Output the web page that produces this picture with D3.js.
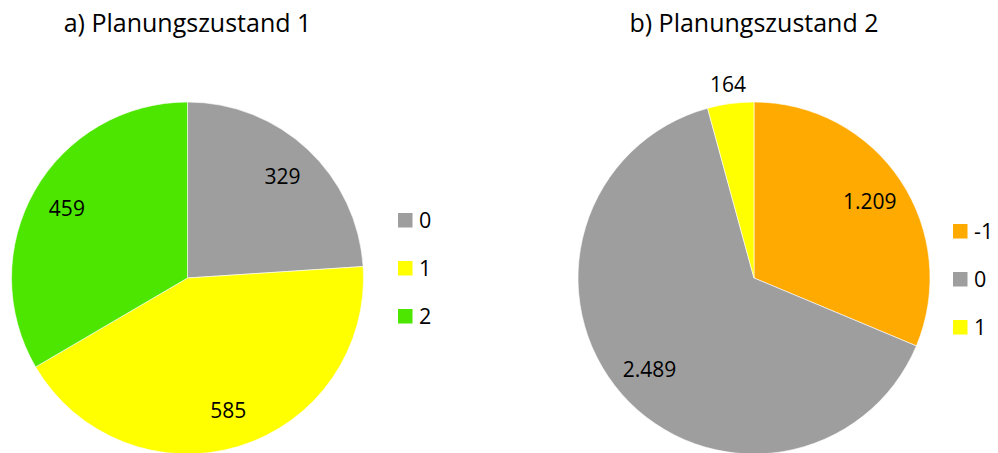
<!DOCTYPE html>
<html><head><meta charset="utf-8">
<script src="https://cdn.jsdelivr.net/npm/d3@7"></script>
<style>body{margin:0;background:#fff}svg{display:block}text{font-family:"Open Sans","Noto Sans",sans-serif;fill:#000}</style>
</head><body>
<script>
const titles = ["a) Planungszustand 1", "b) Planungszustand 2"];
const categoriesA = ["0", "1", "2"];
const valuesA = [329, 585, 459];
const colorsA = ["#9E9E9E", "#FFFF00", "#4DE600"];
const categoriesB = ["-1", "0", "1"];
const valuesB = [1209, 2489, 164];
const colorsB = ["#FFAA00", "#9E9E9E", "#FFFF00"];

const W = 998, H = 453;
const svg = d3.select("body").append("svg").attr("width", W).attr("height", H);
const loc = d3.formatLocale({decimal: ",", thousands: ".", grouping: [3], currency: ["", "€"]});
const fmt = loc.format(",d");

const panels = [
  {title: titles[0], cats: categoriesA, vals: valuesA, cols: colorsA, cx: 187.5, cy: 278, r: 176, lx: 398, ly: 220, outside: []},
  {title: titles[1], cats: categoriesB, vals: valuesB, cols: colorsB, cx: 754, cy: 278, r: 176, lx: 953, ly: 231, outside: [2]}
];

panels.forEach(p => {
  const g = svg.append("g").attr("transform", `translate(${p.cx},${p.cy})`);
  const data = p.cats.map((c, i) => ({cat: c, value: p.vals[i], color: p.cols[i], i}));
  const arcs = d3.pie().sort(null).value(d => d.value)(data);
  const arc = d3.arc().innerRadius(0).outerRadius(p.r);
  g.selectAll("path").data(arcs).join("path")
    .attr("d", arc).attr("fill", d => d.data.color)
    .attr("stroke", "#fff").attr("stroke-width", 0.6);
  const lab = d3.arc().innerRadius(p.r * 0.79).outerRadius(p.r * 0.79);
  const labOut = d3.arc().innerRadius(p.r * 1.11).outerRadius(p.r * 1.11);
  g.selectAll("text.v").data(arcs).join("text").attr("class", "v")
    .attr("transform", d => `translate(${(p.outside.includes(d.index) ? labOut : lab).centroid(d)})`)
    .attr("text-anchor", "middle").attr("dy", "0.36em")
    .style("font-size", "21px")
    .text(d => fmt(d.data.value));
  svg.append("text").attr("x", p.cx).attr("y", 32).attr("text-anchor", "middle")
    .style("font-size", "25px").text(p.title);
  const leg = svg.append("g").attr("transform", `translate(${p.lx},${p.ly})`);
  data.forEach((d, i) => {
    const row = leg.append("g").attr("transform", `translate(0,${i * 48})`);
    row.append("rect").attr("x", 0).attr("y", -7).attr("width", 14.5).attr("height", 14.5).attr("fill", d.color);
    row.append("text").attr("x", 21).attr("y", 0).attr("dy", "0.37em").style("font-size", "21.5px").text(d.cat);
  });
});
</script>
</body></html>
